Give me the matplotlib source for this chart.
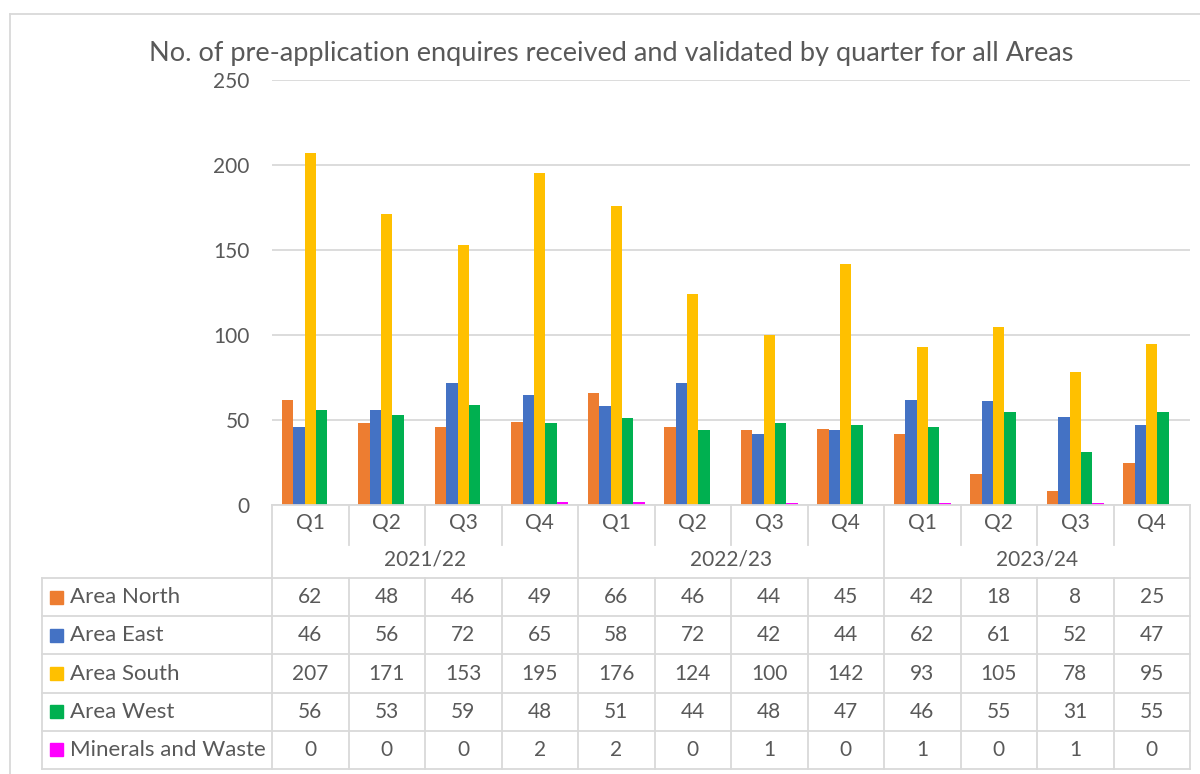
import matplotlib
matplotlib.use("Agg")
import matplotlib.pyplot as plt
from matplotlib.transforms import blended_transform_factory
from matplotlib.patches import Rectangle
import numpy as np

# ---------------- data ----------------
quarters = ["Q1", "Q2", "Q3", "Q4"] * 3
years = ["2021/22", "2022/23", "2023/24"]
series_names = ["Area North", "Area East", "Area South", "Area West", "Minerals and Waste"]
area_north = [62, 48, 46, 49, 66, 46, 44, 45, 42, 18, 8, 25]
area_east = [46, 56, 72, 65, 58, 72, 42, 44, 62, 61, 52, 47]
area_south = [207, 171, 153, 195, 176, 124, 100, 142, 93, 105, 78, 95]
area_west = [56, 53, 59, 48, 51, 44, 48, 47, 46, 55, 31, 55]
minerals_waste = [0, 0, 0, 2, 2, 0, 1, 0, 1, 0, 1, 0]
yticks = [0, 50, 100, 150, 200, 250]
title = "No. of pre-application enquires received and validated by quarter for all Areas"

series_values = [area_north, area_east, area_south, area_west, minerals_waste]
colors = ["#ED7D31", "#4472C4", "#FFC000", "#00B050", "#FF00FF"]
text_col = "#595959"
line_col = "#D9D9D9"

plt.rcParams['font.family'] = ['Lato', 'DejaVu Sans']

W, H = 1200, 774
fig = plt.figure(figsize=(12, 7.74), dpi=100)

# plot area (pixel layout)
px_left, px_right, px_zero, px_top = 272, 1190, 505, 80
ax = fig.add_axes([px_left / W, 1 - px_zero / H, (px_right - px_left) / W, (px_zero - px_top) / H])
n = len(quarters)
x = np.arange(n)
bw = 0.15
for i, (vals, c) in enumerate(zip(series_values, colors)):
    ax.bar(x + (i - 2) * bw, vals, width=bw, color=c, zorder=3)
ax.set_xlim(-0.5, n - 0.5)
ax.set_ylim(yticks[0], yticks[-1])
ax.set_yticks(yticks)
ax.set_yticklabels([str(t) for t in yticks])
ax.set_xticks([])
for s in ax.spines.values():
    s.set_visible(False)
ax.yaxis.grid(True, color=line_col, lw=1.3, zorder=0)
ax.set_axisbelow(True)
ax.tick_params(axis='y', length=0, pad=16, labelsize=15, labelcolor=text_col)
ax.patch.set_alpha(0)

# overlay for table and frame (pixel coords)
tab = fig.add_axes([0, 0, 1, 1])
tab.set_xlim(0, W)
tab.set_ylim(H, 0)
tab.axis('off')
tab.patch.set_alpha(0)
blend = blended_transform_factory(ax.transData, tab.transData)

lw = 1.3
fs = 15
# outer chart frame
tab.plot([10, 10], [14, H], color=line_col, lw=lw, clip_on=False)
tab.plot([10, W], [14, 14], color=line_col, lw=lw, clip_on=False)

# title
tab.text(611, 53, title, ha='center', va='center', fontsize=19.5, color=text_col)

# header rows
y_axis, y_qsep, y_tab_top, y_tab_bot = 505, 545, 578, 769
row_h = (y_tab_bot - y_tab_top) / len(series_names)
tab.plot([-0.5, n - 0.5], [y_axis, y_axis], color=line_col, lw=lw, transform=blend, clip_on=False)
for k in range(n + 1):
    xb = k - 0.5
    if k % 4 == 0:
        tab.plot([xb, xb], [y_axis, y_tab_bot], color=line_col, lw=lw, transform=blend, clip_on=False)
    else:
        tab.plot([xb, xb], [y_axis, y_qsep], color=line_col, lw=lw, transform=blend, clip_on=False)
        tab.plot([xb, xb], [y_tab_top, y_tab_bot], color=line_col, lw=lw, transform=blend, clip_on=False)
for i, q in enumerate(quarters):
    tab.text(i, 523, q, ha='center', va='center', fontsize=fs, color=text_col, transform=blend)
for g, yr in enumerate(years):
    tab.text(4 * g + 1.5, 560, yr, ha='center', va='center', fontsize=fs, color=text_col, transform=blend)

# table body
tab_left = 42
for r in range(len(series_names) + 1):
    yy = y_tab_top + r * row_h
    tab.plot([tab_left, px_right], [yy, yy], color=line_col, lw=lw, clip_on=False)
tab.plot([tab_left, tab_left], [y_tab_top, y_tab_bot], color=line_col, lw=lw, clip_on=False)
for r, (name, vals, c) in enumerate(zip(series_names, series_values, colors)):
    yc = y_tab_top + (r + 0.5) * row_h
    tab.add_patch(Rectangle((50, yc - 6.5), 13, 13, color=c, clip_on=False))
    tab.text(70, yc, name, ha='left', va='center', fontsize=16, color=text_col)
    for i, v in enumerate(vals):
        tab.text(i, yc, str(v), ha='center', va='center', fontsize=fs, color=text_col, transform=blend)

fig.savefig("out.png", dpi=100)
